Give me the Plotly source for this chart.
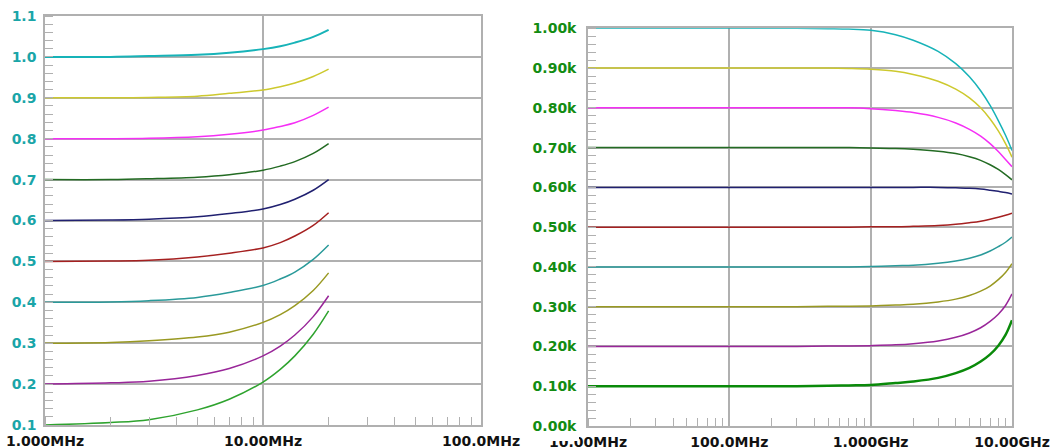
import plotly.graph_objects as go

# ---- left panel: 1 MHz .. 20 MHz sweep ----
freq_left_mhz = [1, 2, 3, 5, 7, 10, 12, 14, 17, 20]
left_cyan    = [1.000, 1.000, 1.002, 1.005, 1.010, 1.019, 1.026, 1.035, 1.049, 1.066]
left_yellow  = [0.900, 0.900, 0.901, 0.904, 0.911, 0.919, 0.927, 0.936, 0.952, 0.970]
left_magenta = [0.800, 0.800, 0.801, 0.805, 0.811, 0.821, 0.830, 0.839, 0.857, 0.877]
left_dkgreen = [0.700, 0.700, 0.702, 0.706, 0.712, 0.723, 0.733, 0.744, 0.764, 0.788]
left_navy    = [0.600, 0.601, 0.603, 0.609, 0.617, 0.628, 0.639, 0.652, 0.674, 0.700]
left_red     = [0.500, 0.501, 0.503, 0.511, 0.520, 0.533, 0.546, 0.562, 0.588, 0.619]
left_teal    = [0.400, 0.401, 0.404, 0.412, 0.424, 0.441, 0.457, 0.474, 0.505, 0.540]
left_olive   = [0.300, 0.302, 0.306, 0.315, 0.327, 0.351, 0.370, 0.392, 0.429, 0.472]
left_purple  = [0.200, 0.203, 0.207, 0.221, 0.238, 0.269, 0.293, 0.320, 0.365, 0.416]
left_green   = [0.100, 0.106, 0.113, 0.137, 0.163, 0.205, 0.236, 0.269, 0.322, 0.379]

left_ytick_vals = [0.1, 0.2, 0.3, 0.4, 0.5, 0.6, 0.7, 0.8, 0.9, 1.0, 1.1]
left_ytick_text = ["0.1", "0.2", "0.3", "0.4", "0.5", "0.6", "0.7", "0.8", "0.9", "1.0", "1.1"]
left_xtick_vals = [1, 10, 100]
left_xtick_text = ["1.000MHz", "10.00MHz", "100.0MHz"]

# ---- right panel: 10 MHz .. 10 GHz sweep ----
freq_right_mhz = [10, 100, 300, 500, 700, 1000, 1500, 2000, 3000, 4000, 5000,
                  6000, 7000, 8000, 9000, 10000]
right_cyan    = [1000, 1000, 1000, 999, 998, 995, 984, 970, 942, 911, 878, 843, 806, 768, 731, 693]
right_yellow  = [900, 900, 900, 900, 899, 897, 892, 884, 867, 847, 825, 800, 772, 742, 710, 676]
right_magenta = [800, 800, 800, 800, 800, 798, 793, 788, 776, 762, 746, 729, 710, 690, 670, 652]
right_dkgreen = [700, 700, 700, 700, 700, 699, 698, 696, 691, 685, 677, 668, 657, 645, 632, 619]
right_navy    = [600, 600, 600, 600, 600, 600, 600, 600, 600, 599, 598, 596, 593, 590, 587, 583]
right_red     = [500, 500, 500, 500, 500, 501, 501, 502, 504, 507, 511, 515, 520, 525, 530, 535]
right_teal    = [400, 400, 400, 400, 400, 401, 403, 404, 409, 415, 422, 430, 440, 451, 462, 475]
right_olive   = [300, 300, 300, 301, 301, 302, 304, 306, 312, 319, 328, 339, 352, 368, 386, 408]
right_purple  = [200, 200, 200, 201, 201, 202, 204, 207, 214, 223, 234, 247, 263, 281, 303, 332]
right_green   = [100, 100, 100, 101, 102, 103, 108, 112, 121, 133, 146, 162, 180, 202, 229, 266]

right_ytick_vals = [0, 100, 200, 300, 400, 500, 600, 700, 800, 900, 1000]
right_ytick_text = ["0.00k", "0.10k", "0.20k", "0.30k", "0.40k", "0.50k",
                    "0.60k", "0.70k", "0.80k", "0.90k", "1.00k"]
right_xtick_vals = [10, 100, 1000, 10000]
right_xtick_text = ["10.00MHz", "100.0MHz", "1.000GHz", "10.00GHz"]

# trace colours, top curve first
colors = ["#17b3b8", "#cdc92e", "#f52ff5", "#236b23", "#202070",
          "#a52020", "#2a9a9a", "#999922", "#992699"]
left_green_color = "#2ea32e"
right_green_color = "#0a8a0a"

left_series = [left_cyan, left_yellow, left_magenta, left_dkgreen, left_navy,
               left_red, left_teal, left_olive, left_purple, left_green]
right_series = [right_cyan, right_yellow, right_magenta, right_dkgreen, right_navy,
                right_red, right_teal, right_olive, right_purple, right_green]

fig = go.Figure()

for i, ys in enumerate(left_series):
    c = colors[i] if i < len(colors) else left_green_color
    w = 2 if i == 0 else 1.5
    fig.add_trace(go.Scatter(x=freq_left_mhz, y=ys, mode="lines",
                             line=dict(color=c, width=w, shape="spline", smoothing=1.0),
                             xaxis="x", yaxis="y", showlegend=False, hoverinfo="skip"))

for i, ys in enumerate(right_series):
    c = colors[i] if i < len(colors) else right_green_color
    w = 2.5 if i == len(right_series) - 1 else 1.5
    fig.add_trace(go.Scatter(x=freq_right_mhz, y=ys, mode="lines",
                             line=dict(color=c, width=w, shape="spline", smoothing=1.0),
                             xaxis="x2", yaxis="y2", showlegend=False, hoverinfo="skip"))

W, H = 1055, 448
grid_col = "#b0b0b0"
FONT = "DejaVu Sans"
FSIZE = 14
axis_font = dict(family=FONT, size=FSIZE, color="#111111", weight="bold")


def xaxis_style(dom, vals, text, rng, anchor):
    return dict(type="log", domain=dom, range=rng, anchor=anchor, automargin=False,
                tickmode="array", tickvals=vals, ticktext=text,
                showgrid=True, gridcolor=grid_col, gridwidth=1.5,
                showline=True, linecolor=grid_col, linewidth=1.5, mirror=True,
                ticks="", tickfont=axis_font, ticklabelstandoff=2,
                minor=dict(ticks="inside", ticklen=8, tickcolor=grid_col,
                           tickwidth=1, dtick="D1", showgrid=False),
                zeroline=False, fixedrange=True)


def yaxis_style(dom, vals, text, rng, anchor, color, standoff):
    return dict(domain=dom, range=rng, anchor=anchor, automargin=False,
                tickmode="array", tickvals=vals, ticktext=text,
                showgrid=True, gridcolor=grid_col, gridwidth=1.5,
                showline=True, linecolor=grid_col, linewidth=1.5, mirror=True,
                ticks="", ticklabelstandoff=standoff,
                tickfont=dict(family=FONT, size=FSIZE, color=color, weight="bold"),
                minor=dict(ticks="inside", ticklen=8, tickcolor=grid_col,
                           tickwidth=1, dtick=(vals[1] - vals[0]) / 5, showgrid=False),
                zeroline=False, fixedrange=True)


fig.update_layout(
    width=W, height=H,
    margin=dict(l=0, r=0, t=0, b=0, autoexpand=False),
    paper_bgcolor="white", plot_bgcolor="white",
    xaxis=xaxis_style([45 / W, 481 / W], left_xtick_vals, left_xtick_text, [0, 2], "y"),
    yaxis=yaxis_style([23 / H, 432 / H], left_ytick_vals, left_ytick_text, [0.1, 1.1], "x",
                      "#1aa5a8", 4),
    xaxis2=xaxis_style([588 / W, 1012 / W], right_xtick_vals, right_xtick_text, [1, 4], "y2"),
    yaxis2=yaxis_style([22 / H, 419.7 / H], right_ytick_vals, right_ytick_text, [0, 1000], "x2",
                       "#128c12", 7),
    # the left panel's label box overlaps the upper half of the right panel's first label
    shapes=[dict(type="rect", xref="paper", yref="paper", layer="above",
                 x0=548 / W, x1=579 / W, y0=(H - 441) / H, y1=(H - 434) / H,
                 fillcolor="white", line=dict(width=0))],
)

fig.write_html("out.html")
